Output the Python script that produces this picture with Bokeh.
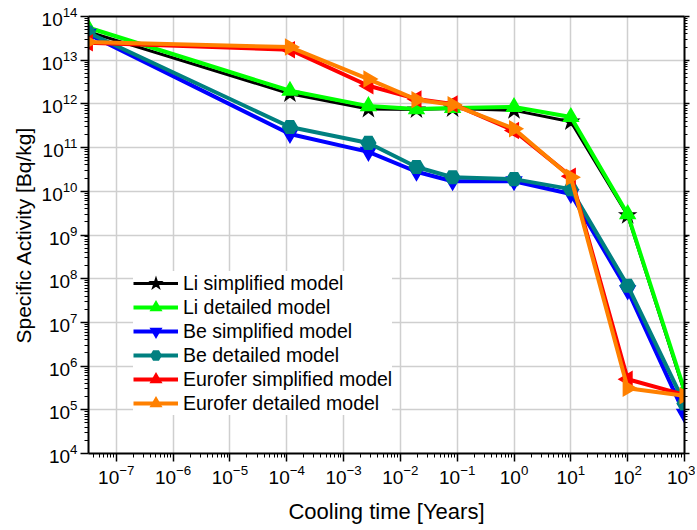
import numpy as np
from bokeh.plotting import figure
from bokeh.models import FixedTicker, LogAxis, LogTickFormatter, Legend, LegendItem, Range1d
from bokeh.embed import file_html
from bokeh.resources import INLINE

# Cooling times [years]: 1 s, 1 h, 1 d, 1 w, 1 month, 1 y, 10 y, 100 y, 1000 y
cooling_time = [3.17e-8, 1.14e-4, 2.74e-3, 1.92e-2, 8.3e-2, 1.0, 10.0, 100.0, 1000.0]

li_simplified = [4.5e13, 1.7e12, 7.6e11, 7.4e11, 7.8e11, 7.1e11, 3.9e11, 2.8e9, 2.5e5]
li_detailed = [5.6e13, 2.0e12, 8.9e11, 7.6e11, 8.1e11, 8.5e11, 5.0e11, 3.0e9, 2.8e5]
be_simplified = [4.0e13, 2.05e11, 8.0e10, 2.8e10, 1.7e10, 1.7e10, 8.7e9, 5.4e7, 8.1e4]
be_detailed = [4.3e13, 2.96e11, 1.28e11, 3.6e10, 2.1e10, 1.9e10, 1.12e10, 6.9e7, 1.4e5]
eu_simplified = [2.5e13, 1.74e13, 2.6e12, 1.3e12, 1.0e12, 2.45e11, 2.2e10, 5.0e5, 2.2e5]
eu_detailed = [2.6e13, 2.0e13, 3.7e12, 1.25e12, 9.6e11, 2.7e11, 2.1e10, 3.1e5, 2.1e5]

series_names = ["Li simplified model", "Li detailed model", "Be simplified model",
                "Be detailed model", "Eurofer simplified model", "Eurofer detailed model"]
series_values = [li_simplified, li_detailed, be_simplified, be_detailed, eu_simplified, eu_detailed]
series_colors = ["#000000", "#00ff00", "#0000ff", "#008080", "#ff0000", "#ff8000"]
series_markers = ["star", "triangle", "inverted_triangle", "hex", "triangle", "triangle"]
series_angles = [0.0, 0.0, 0.0, 0.0, np.pi / 2, -np.pi / 2]
series_widths = [3, 4, 4, 4, 4, 4]

x_major = [10.0 ** k for k in range(-7, 4)]
x_minor = [m * 10.0 ** k for k in range(-8, 3) for m in range(2, 10)]
y_major = [10.0 ** k for k in range(4, 15)]
y_minor = [m * 10.0 ** k for k in range(4, 14) for m in range(2, 10)]

FONT = "Liberation Sans"

p = figure(frame_width=596, frame_height=437, x_axis_type="log", y_axis_type="log",
           x_range=Range1d(3.25e-8, 1e3), y_range=Range1d(1e4, 1e14),
           output_backend="svg", toolbar_location=None,
           min_border_left=88, min_border_right=11, min_border_top=16, min_border_bottom=75)
p.background_fill_color = "white"
p.border_fill_color = "white"
p.outline_line_color = None

xt = FixedTicker(ticks=x_major, minor_ticks=x_minor)
yt = FixedTicker(ticks=y_major, minor_ticks=y_minor)

for ax, t in ((p.xaxis[0], xt), (p.yaxis[0], yt)):
    ax.ticker = t
    ax.formatter = LogTickFormatter()
    ax.axis_line_width = 2
    ax.axis_line_color = "black"
    ax.major_tick_line_width = 1.5
    ax.minor_tick_line_width = 1
    ax.major_tick_out = 8
    ax.major_tick_in = 0
    ax.minor_tick_out = 4
    ax.minor_tick_in = 0
    ax.major_label_text_font = FONT
    ax.major_label_text_font_size = "19px"
    ax.major_label_text_color = "black"
    ax.axis_label_text_font = FONT
    ax.axis_label_text_font_style = "normal"
    ax.axis_label_text_color = "black"

p.xaxis.axis_label = "Cooling time [Years]"
p.yaxis.axis_label = "Specific Activity [Bq/kg]"
p.xaxis.axis_label_text_font_size = "22px"
p.yaxis.axis_label_text_font_size = "21px"
p.xaxis.major_label_standoff = 3
p.yaxis.major_label_standoff = 3
p.xaxis.axis_label_standoff = 12
p.yaxis.axis_label_standoff = 4

top = LogAxis(ticker=xt, axis_line_width=2, major_tick_out=0, major_tick_in=0,
              minor_tick_out=0, minor_tick_in=0, major_label_text_color=None,
              major_label_text_font_size="1px")
right = LogAxis(ticker=yt, axis_line_width=2, major_tick_out=5, major_tick_in=0,
                minor_tick_out=3, minor_tick_in=0, major_label_text_color=None,
                major_label_text_font_size="1px", major_tick_line_width=1.5)
p.add_layout(top, "above")
p.add_layout(right, "right")

p.xgrid.ticker = xt
p.ygrid.ticker = yt
p.grid.grid_line_color = "#cfcfcf"
p.grid.grid_line_width = 1.5

items = []
for name, vals, col, mk, ang, lw in zip(series_names, series_values, series_colors,
                                       series_markers, series_angles, series_widths):
    lr = p.line(cooling_time, vals, line_color=col, line_width=lw)
    sr = p.scatter(cooling_time, vals, marker=mk, angle=ang, size=14,
                   fill_color=col, line_color=col, line_width=2, line_join="miter")
    items.append(LegendItem(label=name, renderers=[lr, sr]))

legend = Legend(items=items, location=(45, 38))
legend.border_line_color = None
legend.background_fill_color = "white"
legend.background_fill_alpha = 1.0
legend.label_text_font = FONT
legend.label_text_font_size = "19.5px"
legend.label_text_color = "black"
legend.glyph_width = 45
legend.glyph_height = 24
legend.label_height = 24
legend.spacing = 0
legend.padding = 4
legend.margin = 0
legend.label_standoff = 5
p.add_layout(legend, "center")

open("out.html", "w").write(file_html(p, INLINE))
